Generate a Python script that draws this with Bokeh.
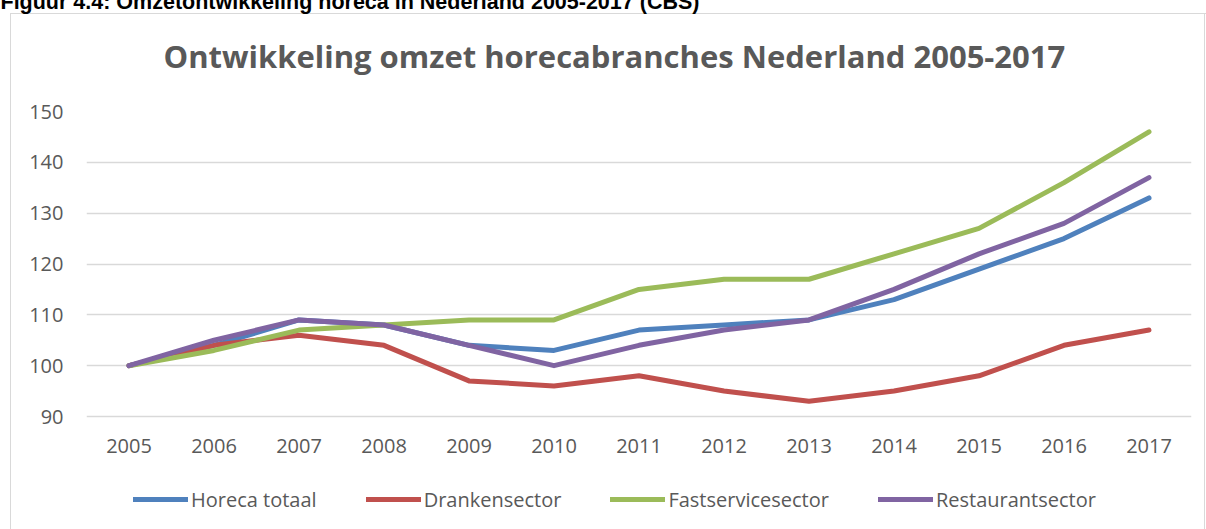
from bokeh.plotting import figure
from bokeh.models import FactorRange, Range1d, FixedTicker, Legend, LegendItem, Title
from bokeh.embed import file_html
from bokeh.resources import INLINE

# ---- data ----
years = ["2005", "2006", "2007", "2008", "2009", "2010", "2011",
         "2012", "2013", "2014", "2015", "2016", "2017"]
horeca_totaal = [100, 104, 109, 108, 104, 103, 107, 108, 109, 113, 119, 125, 133]
drankensector = [100, 104, 106, 104, 97, 96, 98, 95, 93, 95, 98, 104, 107]
fastservicesector = [100, 103, 107, 108, 109, 109, 115, 117, 117, 122, 127, 136, 146]
restaurantsector = [100, 105, 109, 108, 104, 100, 104, 107, 109, 115, 122, 128, 137]
series_names = ["Horeca totaal", "Drankensector", "Fastservicesector", "Restaurantsector"]
series_colors = ["#4F81BD", "#C0504D", "#9BBB59", "#8064A2"]
y_ticks = [90, 100, 110, 120, 130, 140, 150]
title_text = "Ontwikkeling omzet horecabranches Nederland 2005-2017"
caption_text = "Figuur 4.4: Omzetontwikkeling horeca in Nederland 2005-2017 (CBS)"

TXT = "#595959"
FONT = "Open Sans"
GRID = "#d9d9d9"

# ---- layout constants (pixels) ----
SHIFT = 35            # canvas moved up so the caption top is cut off like the source
W, H = 1206, 529 + SHIFT
TOP = 111 + SHIFT     # frame top (value 150)
PX_PER_UNIT = 305 / 60
y_lo = 150 - (H - TOP) / PX_PER_UNIT   # frame reaches the canvas bottom

p = figure(width=W, height=H,
           x_range=FactorRange(*years, range_padding=0),
           y_range=Range1d(y_lo, 150),
           x_axis_location="above",
           output_backend="svg", toolbar_location=None,
           min_border_left=86, min_border_right=15,
           min_border_top=TOP, min_border_bottom=0)
p.outline_line_color = None
p.background_fill_color = "white"
p.border_fill_alpha = 0
p.title = None
BOX_TOP = 13 + SHIFT
p.styles = {
    "transform": "translateY(-%dpx)" % SHIFT,
    "background-image": ("linear-gradient(%s, %s), linear-gradient(%s, %s), "
                         "linear-gradient(%s, %s)") % ((GRID,) * 6),
    "background-size": "1196px 1px, 1px %dpx, 1px %dpx" % (H, H),
    "background-position": "10px %dpx, 10px %dpx, 1204px %dpx" % (BOX_TOP, BOX_TOP, BOX_TOP),
    "background-repeat": "no-repeat",
}

# gap between frame and chart title
p.add_layout(Title(text=" ", text_font_size="1px", standoff=32), "above")
# chart title
p.add_layout(Title(text=title_text, align="left", offset=77,
                   vertical_align="bottom", standoff=0,
                   text_font=FONT, text_font_style="bold",
                   text_font_size="31px", text_color=TXT), "above")
# page caption (outermost, partly above the visible page)
p.add_layout(Title(text=caption_text, align="left", offset=-86,
                   vertical_align="bottom", standoff=38,
                   text_font="Liberation Sans", text_font_style="bold",
                   text_font_size="21.5px", text_color="black"), "above")

for ax in (p.xaxis[0], p.yaxis[0]):
    ax.axis_line_color = None
    ax.major_tick_line_color = None
    ax.minor_tick_line_color = None
    ax.major_tick_out = 0
    ax.major_tick_in = 0
    ax.major_label_text_font = FONT
    ax.major_label_text_font_size = "20px"
    ax.major_label_text_color = TXT
p.yaxis[0].ticker = FixedTicker(ticks=y_ticks)
p.yaxis[0].major_label_standoff = 23
p.xaxis[0].major_label_standoff = 0
p.xaxis[0].fixed_location = 82.8
p.xgrid.grid_line_color = None
p.ygrid.grid_line_color = GRID
p.ygrid.grid_line_width = 1.5

series = [horeca_totaal, drankensector, fastservicesector, restaurantsector]
renderers = []
for vals, col in zip(series, series_colors):
    r = p.line(years, vals, line_width=5, line_color=col,
               line_cap="round", line_join="round")
    renderers.append(r)

legend = Legend(items=[LegendItem(label=n, renderers=[r]) for n, r in zip(series_names, renderers)],
                orientation="horizontal", location=(47, 16.5),
                glyph_width=55, glyph_height=20, label_standoff=3,
                padding=0, margin=0, spacing=49,
                border_line_color=None, background_fill_alpha=0,
                label_text_font=FONT, label_text_font_size="20px",
                label_text_color=TXT)
p.add_layout(legend, "center")

open("out.html", "w").write(file_html(p, INLINE))
